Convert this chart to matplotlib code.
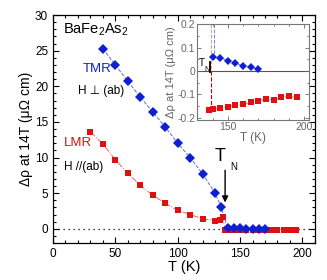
import matplotlib
matplotlib.use("Agg")
import matplotlib.pyplot as plt
from matplotlib.ticker import MultipleLocator

plt.rcParams['font.family'] = ['Liberation Sans', 'DejaVu Sans']
plt.rcParams['mathtext.fontset'] = 'custom'
plt.rcParams['mathtext.rm'] = 'Liberation Sans'
plt.rcParams['mathtext.it'] = 'Liberation Sans:italic'

# TMR (H perpendicular to ab), main panel, below T_N
tmr_T_low = [40, 50, 60, 70, 80, 90, 100, 110, 120, 130, 135]
tmr_low = [25.3, 23.0, 20.7, 18.5, 16.4, 14.3, 12.0, 10.0, 7.7, 5.0, 3.0]
# TMR above T_N (also shown in inset)
tmr_T_high = [140, 145, 150, 155, 160, 165, 170]
tmr_high = [0.060, 0.057, 0.043, 0.034, 0.021, 0.016, 0.007]

# LMR (H parallel to ab)
lmr_T_low = [30, 40, 50, 60, 70, 80, 90, 100, 110, 120, 130, 134, 136]
lmr_low = [13.6, 11.9, 9.7, 7.8, 6.1, 4.7, 3.6, 2.6, 2.0, 1.4, 1.15, 1.3, 1.7]
lmr_T_high = [138, 140, 145, 150, 155, 160, 165, 170, 175, 180, 185, 190, 195]
lmr_high = [-0.168, -0.162, -0.159, -0.153, -0.146, -0.142, -0.134,
            -0.128, -0.119, -0.125, -0.113, -0.109, -0.113]

T_N = 138

BLUE = '#1020d0'
RED = '#e01010'

fig = plt.figure(figsize=(3.27, 2.80), dpi=100)
ax = fig.add_axes([0.162, 0.132, 0.801, 0.814])

ax.axhline(0, color='black', ls=(0, (1, 3)), lw=0.9, zorder=1)

ax.plot(tmr_T_low + tmr_T_high, tmr_low + tmr_high, ls='--', color='#5570e0', lw=0.7, zorder=2)
ax.plot(lmr_T_low + lmr_T_high, lmr_low + lmr_high, ls='-.', color='#f06060', lw=0.7, zorder=2)
ax.plot(lmr_T_low + lmr_T_high, lmr_low + lmr_high, 's', color=RED, ms=4.4, mew=0, zorder=3)
ax.plot(tmr_T_low + tmr_T_high, tmr_low + tmr_high, 'D', color=BLUE, ms=4.6, mew=0, zorder=4)

ax.set_xlim(0, 210)
ax.set_ylim(-2, 30)
ax.xaxis.set_major_locator(MultipleLocator(50))
ax.xaxis.set_minor_locator(MultipleLocator(10))
ax.yaxis.set_major_locator(MultipleLocator(5))
ax.yaxis.set_minor_locator(MultipleLocator(1))
ax.tick_params(which='both', direction='in', top=True, right=True, labelsize=8.5, width=0.8)
ax.tick_params(which='major', length=4)
ax.tick_params(which='minor', length=2)
for s in ax.spines.values():
    s.set_linewidth(0.9)
ax.set_xlabel('T (K)', fontsize=10.5, labelpad=0)
ax.set_ylabel('\u0394\u03c1 at 14T (\u03bc\u03a9 cm)', fontsize=10, labelpad=1)

ax.text(8, 28, r'$\mathrm{BaFe_2As_2}$', fontsize=10.5, va='center')
ax.text(24, 22.4, 'TMR', color=BLUE, fontsize=9.5, va='center')
ax.text(20, 19.3, 'H \u22a5 (ab)', fontsize=8.5, va='center')
ax.text(9, 12.0, 'LMR', color=RED, fontsize=9.5, va='center')
ax.text(9, 8.7, 'H //(ab)', fontsize=8.5, va='center')

ax.text(134, 10.2, 'T', fontsize=13, ha='center', va='center')
ax.text(144.5, 8.7, 'N', fontsize=7, ha='center', va='center')
ax.annotate('', xy=(T_N, 3.3), xytext=(T_N, 8.6),
            arrowprops=dict(arrowstyle='-|>', color='black', lw=1.0, mutation_scale=9))

# inset
ins = fig.add_axes([0.603, 0.571, 0.342, 0.343])
ins.axhline(0, color='#555555', lw=0.8, zorder=1)
ins.plot([T_N + 0.9, T_N + 0.9], [0.2, 0.0], ls='--', color='#f09090', lw=0.7, zorder=1)
ins.plot([T_N + 0.9, T_N + 0.9], [0.0, lmr_high[0]], ls='--', color='#c00000', lw=0.8, zorder=1)
ins.plot([tmr_T_high[0] + 1, tmr_T_high[0] + 1], [0.2, tmr_high[0]], ls='--', color='#7080ee', lw=0.7, zorder=1)
ins.plot(tmr_T_high, tmr_high, ls='--', color='#5570e0', lw=0.7, zorder=2)
ins.plot(tmr_T_high, tmr_high, 'D', color=BLUE, ms=3.6, mew=0, zorder=3)
ins.plot(lmr_T_high, lmr_high, ls='--', color='#f06060', lw=0.7, zorder=2)
ins.plot(lmr_T_high, lmr_high, 's', color=RED, ms=4, mew=0, zorder=3)
ins.plot([T_N + 0.5, T_N + 0.5], [0.037, -0.004], color='black', lw=1.3, zorder=4)
ins.text(131.2, 0.035, 'T', fontsize=7, va='center')
ins.text(135.0, 0.004, 'N', fontsize=5, va='center')

ins.set_xlim(130, 203)
ins.set_ylim(-0.21, 0.2)
ins.xaxis.set_major_locator(MultipleLocator(50))
ins.xaxis.set_minor_locator(MultipleLocator(10))
ins.yaxis.set_major_locator(MultipleLocator(0.1))
ins.yaxis.set_minor_locator(MultipleLocator(0.05))
ins.set_yticks([-0.2, -0.1, 0, 0.1, 0.2])
ins.set_yticklabels(['-0.2', '-0.1', '0', '0.1', '0.2'])
ins.tick_params(which='both', direction='in', top=True, right=True, labelsize=7.5,
                colors='#666666', pad=1.5, width=0.6)
ins.tick_params(which='major', length=3)
ins.tick_params(which='minor', length=1.5)
for s in ins.spines.values():
    s.set_color('#777777')
    s.set_linewidth(0.8)
ins.set_xlabel('T (K)', fontsize=8.5, color='#666666', labelpad=0)
ins.set_ylabel('\u0394\u03c1 at 14T (\u03bc\u03a9 cm)', fontsize=8, color='#666666', labelpad=1)

fig.savefig('out.png', dpi=100)
